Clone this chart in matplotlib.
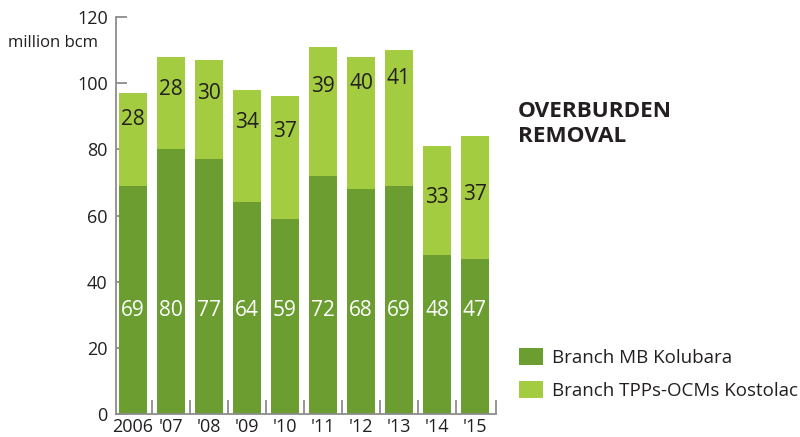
import matplotlib
matplotlib.use("Agg")
import matplotlib.pyplot as plt

years = ["2006", "'07", "'08", "'09", "'10", "'11", "'12", "'13", "'14", "'15"]
kolubara = [69, 80, 77, 64, 59, 72, 68, 69, 48, 47]
kostolac = [28, 28, 30, 34, 37, 39, 40, 41, 33, 37]
yticks = [0, 20, 40, 60, 80, 100, 120]

# styling
dark = "#6b9d31"
light = "#a4cc41"
axis_col = "#8c8c8c"
text_col = "#231f20"
font = "Open Sans"
kostolac_drop = [8, 10, 10, 10, 10.5, 12, 8, 8.5, 15.5, 17.5]
kolubara_label_y = 31.4

plt.rcParams['font.family'] = [font, 'DejaVu Sans']

fig = plt.figure(figsize=(8, 4.37), dpi=100)
ax = fig.add_axes([0.145, 0.0526, 0.475, 0.9085])

x = list(range(len(years)))
ax.bar(x, kolubara, width=0.74, color=dark, label="Branch MB Kolubara", zorder=2)
ax.bar(x, kostolac, width=0.74, bottom=kolubara, color=light,
       label="Branch TPPs-OCMs Kostolac", zorder=2)

for i in x:
    ax.text(i, kolubara_label_y, str(kolubara[i]), ha='center', va='center',
            color='white', fontsize=15, zorder=3)
    top = kolubara[i] + kostolac[i]
    ax.text(i, top - kostolac_drop[i], str(kostolac[i]), ha='center', va='center',
            color=text_col, fontsize=15, zorder=3)

ax.set_xlim(-0.447, 9.553)
ax.set_ylim(0, 120)
ax.set_yticks(yticks)
ax.set_yticklabels([str(v) for v in yticks])
ax.set_xticks(x)
ax.set_xticklabels(years)
ax.set_xticks([i + 0.5 for i in range(9)] + [9.553], minor=True)

for s in ['top', 'right']:
    ax.spines[s].set_visible(False)
for s in ['left', 'bottom']:
    ax.spines[s].set_color(axis_col)
    ax.spines[s].set_linewidth(1.3)

ax.tick_params(axis='y', direction='in', length=8, width=1.3, color=axis_col,
               labelsize=13, labelcolor=text_col, pad=6)
ax.tick_params(axis='x', which='major', length=0, labelsize=13,
               labelcolor=text_col, pad=3)
ax.tick_params(axis='x', which='minor', direction='in', length=10, width=1.3,
               color=axis_col)

fig.text(8 / 800, 1 - 43 / 437, "million bcm", fontsize=12, color=text_col,
         ha='left', va='center')

fig.text(518 / 800, 1 - 124 / 437, "OVERBURDEN\nREMOVAL", fontsize=16.2,
         fontweight='bold', color=text_col, ha='left', va='center',
         linespacing=1.2)

leg = fig.legend(loc='upper left', bbox_to_anchor=(519 / 800, 1 - 348 / 437),
                 frameon=False, fontsize=13.5, handlelength=1.28, handleheight=1.0,
                 labelspacing=0.75, handletextpad=0.48, labelcolor=text_col,
                 borderpad=0, borderaxespad=0)

fig.savefig("out.png", dpi=100)
